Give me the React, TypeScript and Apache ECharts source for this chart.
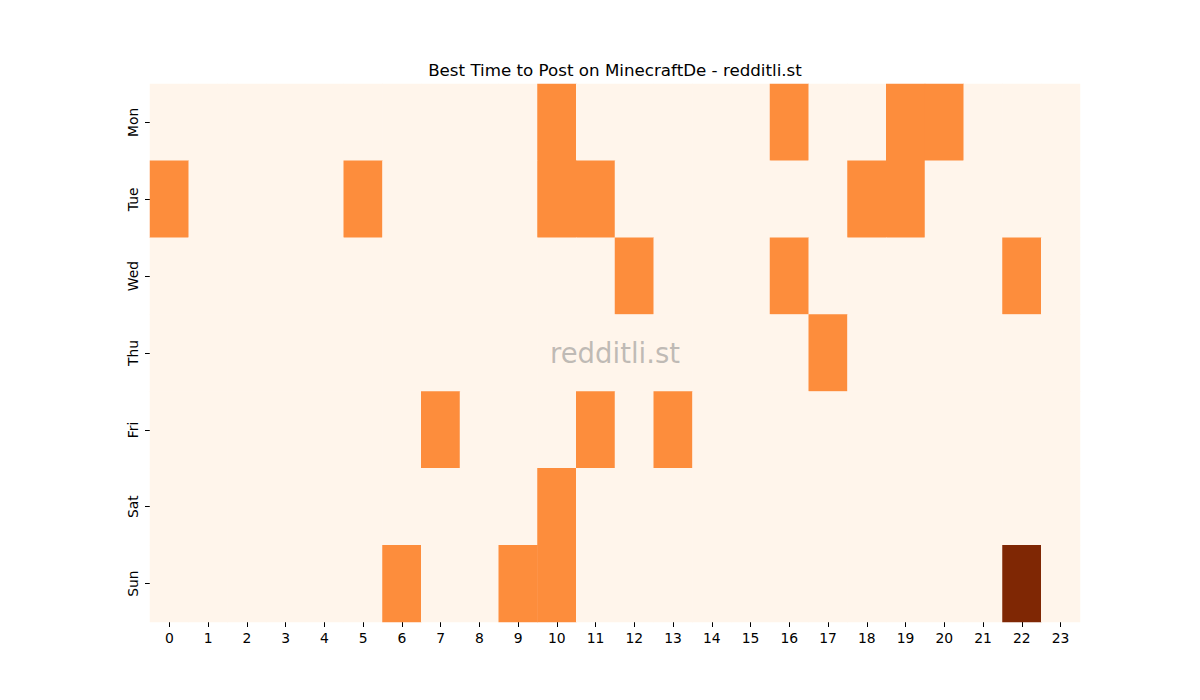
import React, { useEffect, useRef } from "react";
import * as echarts from "echarts";

const hours = ["0","1","2","3","4","5","6","7","8","9","10","11","12","13","14","15","16","17","18","19","20","21","22","23"];
const days = ["Mon", "Tue", "Wed", "Thu", "Fri", "Sat", "Sun"];
// active hours per day (value 1), and the single peak (value 2)
const monHours = [10, 16, 19, 20];
const tueHours = [0, 5, 10, 11, 18, 19];
const wedHours = [12, 16, 22];
const thuHours = [17];
const friHours = [7, 11, 13];
const satHours = [10];
const sunHours = [6, 9, 10];
const sunPeak = [22];

const activeByDay = [monHours, tueHours, wedHours, thuHours, friHours, satHours, sunHours];

export default function App() {
  const ref = useRef<HTMLDivElement>(null);
  useEffect(() => {
    const chart = echarts.init(ref.current!, null, { renderer: "svg" });
    const data: number[][] = [];
    days.forEach((_, d) => {
      hours.forEach((_, h) => {
        let v = 0;
        if (activeByDay[d].includes(h)) v = 1;
        if (d === 6 && sunPeak.includes(h)) v = 2;
        data.push([h, d, v]);
      });
    });
    const font = "DejaVu Sans";
    chart.setOption({
      animation: false,
      backgroundColor: "#ffffff",
      grid: { left: 150, top: 84, width: 930, height: 538, containLabel: false },
      xAxis: {
        type: "category",
        data: hours,
        axisLine: { show: false },
        axisTick: { show: true, alignWithLabel: true, length: 5, lineStyle: { color: "#000" } },
        axisLabel: { color: "#000", fontFamily: font, fontSize: 13.9, margin: 9, interval: 0 },
        splitLine: { show: false },
      },
      yAxis: {
        type: "category",
        data: days,
        inverse: true,
        axisLine: { show: false },
        axisTick: { show: true, alignWithLabel: true, length: 5, lineStyle: { color: "#000" } },
        axisLabel: { color: "#000", fontFamily: font, fontSize: 13.9, rotate: 90, margin: 10, interval: 0 },
        splitLine: { show: false },
      },
      visualMap: {
        show: false,
        type: "piecewise",
        dimension: 2,
        pieces: [
          { value: 0, color: "#fff5eb" },
          { value: 1, color: "#fd8d3c" },
          { value: 2, color: "#7f2704" },
        ],
      },
      series: [
        {
          type: "heatmap",
          data,
          itemStyle: { borderWidth: 0 },
          emphasis: { disabled: true },
        },
      ],
      graphic: [
        {
          type: "text",
          x: 615,
          y: 70,
          style: {
            text: "Best Time to Post on MinecraftDe - redditli.st",
            fontFamily: font,
            fontSize: 16.7,
            fill: "#000",
            textAlign: "center",
            textVerticalAlign: "middle",
          },
        },
        {
          type: "text",
          x: 615,
          y: 353,
          z: 100,
          style: {
            text: "redditli.st",
            fontFamily: font,
            fontSize: 27.5,
            fill: "rgba(128,128,128,0.5)",
            textAlign: "center",
            textVerticalAlign: "middle",
          },
        },
      ],
    });
    return () => chart.dispose();
  }, []);
  return (
    <div
      ref={ref}
      style={{ position: "fixed", left: 0, top: 0, width: 1200, height: 700 }}
    />
  );
}
